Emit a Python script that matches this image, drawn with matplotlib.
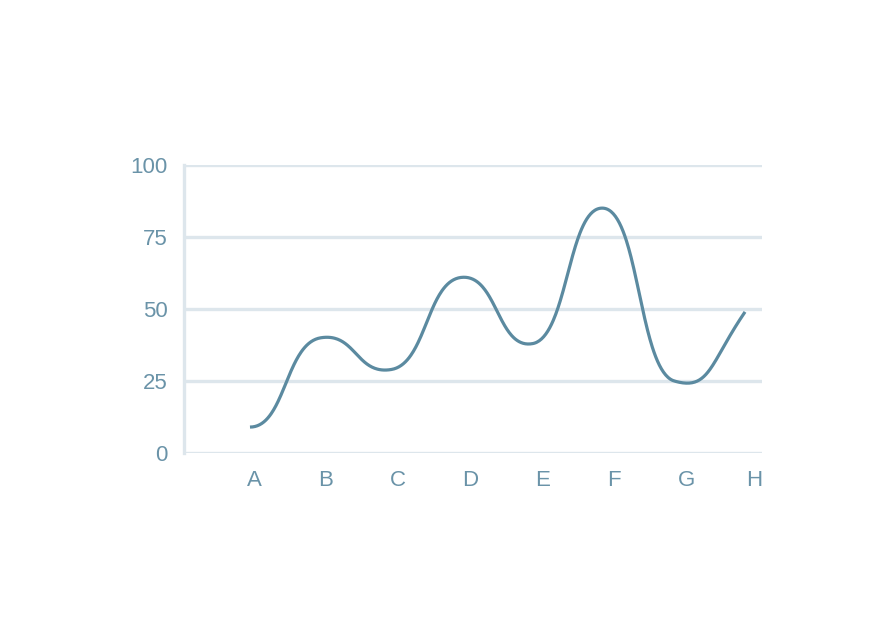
import numpy as np
import matplotlib.pyplot as plt

# --- data ---
categories = ["A", "B", "C", "D", "E", "F", "G", "H"]
values = [9, 40, 29, 61, 38, 85, 25, 49]
y_ticks = [0, 25, 50, 75, 100]

line_color = "#5b8aa0"
text_color = "#6a93a8"
grid_color = "#dde6ec"

plt.rcParams['font.family'] = ['Liberation Sans', 'DejaVu Sans']


def smooth_line(xs, ys, c=0.4, n=80):
    # cubic pieces with wide horizontal handles (bump-like), small catmull-style slope
    xs = np.asarray(xs, float)
    ys = np.asarray(ys, float)
    h = np.diff(xs)
    m = np.zeros(len(xs))
    m[1:-1] = c * (ys[2:] - ys[:-2]) / (xs[2:] - xs[:-2])
    m[-1] = 1.5 * (ys[-1] - ys[-2]) / h[-1]
    t = np.linspace(0, 1, n)
    w = [(1 - t) ** 3, 3 * (1 - t) ** 2 * t, 3 * (1 - t) * t ** 2, t ** 3]
    out_x, out_y = [], []
    for i in range(len(xs) - 1):
        d = h[i] / 2
        bx = [xs[i], xs[i] + d, xs[i + 1] - d, xs[i + 1]]
        by = [ys[i], ys[i] + d * m[i], ys[i + 1] - d * m[i + 1], ys[i + 1]]
        out_x.append(sum(cc * wk for cc, wk in zip(bx, w)))
        out_y.append(sum(cc * wk for cc, wk in zip(by, w)))
    return np.concatenate(out_x), np.concatenate(out_y)


x = np.arange(len(categories))
sx, sy = smooth_line(x, values)

fig = plt.figure(figsize=(8.96, 6.4), dpi=100)
ax = fig.add_axes([184 / 896, 1 - 453 / 640, 578 / 896, 288 / 640])
ax.set_xlim(-0.933, 7.24)
ax.set_ylim(0, 100)

for v in y_ticks:
    ax.axhline(v, color=grid_color, lw=2.4, zorder=1, solid_capstyle='butt')
ax.plot(sx, sy, color=line_color, lw=2.3, zorder=3, solid_capstyle='butt')

for s in ["top", "right", "bottom"]:
    ax.spines[s].set_visible(False)
ax.spines["left"].set_color(grid_color)
ax.spines["left"].set_linewidth(2.4)

ax.set_yticks(y_ticks)
ax.set_yticklabels([str(v) for v in y_ticks])
tick_pos = x * 72 / 70.7 + 0.057
tick_pos[-1] -= 0.06
ax.set_xticks(tick_pos)
ax.set_xticklabels(categories)
ax.tick_params(axis='y', length=0, pad=12, labelsize=16, labelcolor=text_color)
ax.tick_params(axis='x', length=0, pad=12, labelsize=16, labelcolor=text_color)

fig.savefig("out.png", dpi=100)
